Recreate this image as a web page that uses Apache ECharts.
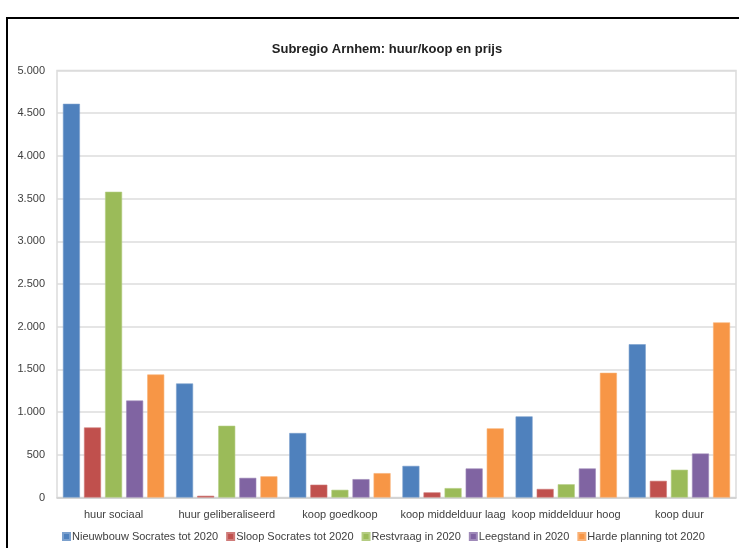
<!DOCTYPE html>
<html>
<head>
<meta charset="utf-8">
<script src="https://cdn.jsdelivr.net/npm/echarts@6/dist/echarts.min.js"></script>
<style>
html,body{margin:0;padding:0;background:#fff;}
#main{width:739px;height:548px;}
</style>
</head>
<body>
<div id="main"></div>
<script>
var categories = ['huur sociaal', 'huur geliberaliseerd', 'koop goedkoop', 'koop middelduur laag', 'koop middelduur hoog', 'koop duur'];
var seriesNames = ['Nieuwbouw Socrates tot 2020', 'Sloop Socrates tot 2020', 'Restvraag in 2020', 'Leegstand in 2020', 'Harde planning tot 2020'];
var nieuwbouw = [4610, 1335, 755, 370, 950, 1795];
var sloop = [820, 20, 150, 60, 100, 195];
var restvraag = [3580, 840, 90, 110, 155, 325];
var leegstand = [1135, 230, 215, 340, 340, 515];
var hardePlanning = [1440, 248, 285, 810, 1460, 2050];
var yTickLabels = ['0', '500', '1.000', '1.500', '2.000', '2.500', '3.000', '3.500', '4.000', '4.500', '5.000'];
var colors = ['#4F81BD', '#C0504D', '#9BBB59', '#8064A2', '#F79646'];

var font = 'Liberation Sans';
var chart = echarts.init(document.getElementById('main'), null, {renderer: 'canvas'});
var dataSets = [nieuwbouw, sloop, restvraag, leegstand, hardePlanning];
var series = dataSets.map(function (d, i) {
  return {
    name: seriesNames[i],
    type: 'bar',
    data: d,
    barWidth: 17,
    barGap: '24%',
    itemStyle: {color: colors[i], borderColor: echarts.color.lift(colors[i], 0.25), borderWidth: 0.6},
    emphasis: {disabled: true}
  };
});

chart.setOption({
  animation: false,
  backgroundColor: '#fff',
  color: colors,
  graphic: [{
    type: 'rect',
    shape: {x: 7, y: 18, width: 800, height: 700},
    style: {fill: 'none', stroke: '#000', lineWidth: 2},
    silent: true
  }],
  title: {
    text: 'Subregio Arnhem: huur/koop en prijs',
    left: 382,
    top: 38,
    textAlign: 'center',
    textStyle: {fontFamily: font, fontSize: 13, fontWeight: 'bold', color: '#222'}
  },
  legend: {
    data: seriesNames,
    left: 57,
    top: 526,
    itemWidth: 7,
    itemHeight: 7,
    itemGap: 8,
    icon: 'rect',
    textStyle: {fontFamily: font, fontSize: 11, color: '#404040', padding: [0, 0, 0, -3]}
  },
  grid: {
    left: 57, right: 3, top: 70.5, bottom: 50.5,
    show: true, borderColor: '#dcdcdc', borderWidth: 1.5, containLabel: false
  },
  xAxis: {
    type: 'category',
    data: categories,
    axisTick: {show: false},
    axisLine: {lineStyle: {color: '#d0d0d0', width: 1.5}},
    axisLabel: {fontFamily: font, fontSize: 11, color: '#404040', margin: 12, interval: 0}
  },
  yAxis: {
    type: 'value',
    min: 0, max: 5000, interval: 500,
    axisLine: {show: false},
    axisTick: {show: false},
    splitLine: {lineStyle: {color: '#dcdcdc', width: 1.5}},
    axisLabel: {
      fontFamily: font, fontSize: 11, color: '#404040', margin: 12,
      formatter: function (v) { return yTickLabels[Math.round(v / 500)]; }
    }
  },
  series: series
});
</script>
</body>
</html>
